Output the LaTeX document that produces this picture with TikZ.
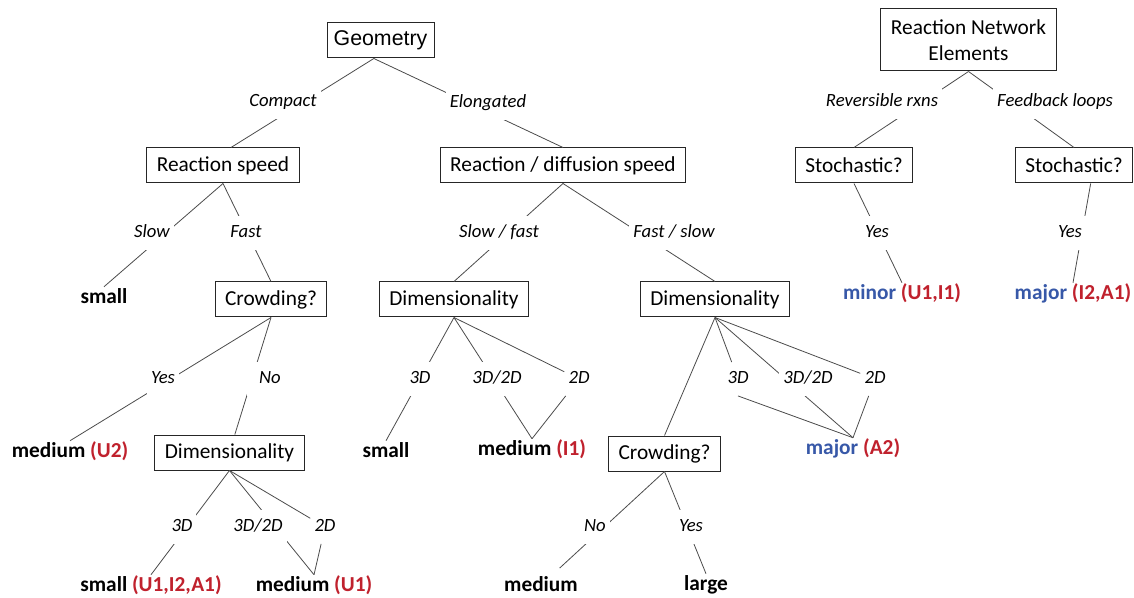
\documentclass[tikz,border=0pt]{standalone}
\usepackage{fontspec}
\setmainfont{Carlito}
\newfontfamily\geofont{Liberation Sans}
\definecolor{tagred}{RGB}{192,33,45}
\definecolor{tagblue}{RGB}{55,88,168}
\newcommand{\tagr}[1]{\textcolor{tagred}{#1}}
\newcommand{\tagb}[1]{\textcolor{tagblue}{#1}}

\begin{document}
\begin{tikzpicture}[x=0.75pt,y=-0.75pt,
  box/.style={draw=black!85,line width=0.75pt,font=\fontsize{16}{19.5}\selectfont,inner xsep=7.5pt,minimum height=26.25pt},
  lbl/.style={fill=white,font=\fontsize{14}{17}\selectfont\itshape,text height=10pt,text depth=3pt,inner xsep=3pt,inner ysep=6pt},
  res/.style={font=\fontsize{16}{19.5}\selectfont\bfseries,text height=12pt,text depth=3.5pt,inner sep=0.5pt},
  link/.style={draw=black!70,line width=0.6pt}]
\fill[white,use as bounding box](0,0) rectangle (1134,598);
\node[box,inner xsep=5pt] (geo) at (380.5,40.5) {\geofont Geometry};
\node[box,align=center,minimum height=46.5pt] (rne) at (968.5,40) {Reaction Network\\Elements};
\node[box] (rs) at (223,165.5) {Reaction speed};
\node[box] (rds) at (563,165.5) {Reaction / diffusion speed};
\node[box] (stochA) at (854,165.5) {Stochastic?};
\node[box] (stochB) at (1074,165.5) {Stochastic?};
\node[box] (crowdA) at (271,299.5) {Crowding?};
\node[box] (dimB) at (454,299.5) {Dimensionality};
\node[box] (dimC) at (715,299.5) {Dimensionality};
\node[box] (dimA) at (229.5,452.5) {Dimensionality};
\node[box] (crowdB) at (664.5,453.5) {Crowding?};
\node[res] (smallL) at (104,298) {small};
\node[res] (medU2) at (70,452) {medium \tagr{(U2)}};
\node[res] (smallU) at (151,586) {small \tagr{(U1,I2,A1)}};
\node[res] (medU1) at (314,586) {medium \tagr{(U1)}};
\node[res] (smallM) at (386,452) {small};
\node[res] (medI1) at (532,450) {medium \tagr{(I1)}};
\node[res,text depth=0pt] (medC) at (541,583) {medium};
\node[res] (large) at (706,585) {large};
\node[res] (majA2) at (853,449) {\tagb{major} \tagr{(A2)}};
\node[res] (minor) at (902,294) {\tagb{minor} \tagr{(U1,I1)}};
\node[res] (majI2) at (1073,294) {\tagb{major} \tagr{(I2,A1)}};
\draw[link] ([xshift=-5pt]geo.south) -- ([xshift=6pt]rs.north);
\draw[link] ([xshift=-5pt]geo.south) -- (rds.north);
\draw[link] (rs.south) -- (smallL.north);
\draw[link] (rs.south) -- (crowdA.north);
\draw[link] (crowdA.south) -- (medU2.north);
\draw[link] (crowdA.south) -- ([xshift=4pt]dimA.north);
\draw[link] (dimA.south) -- (smallU.north);
\draw[link] (dimA.south) -- (medU1.north);
\draw[link] (rds.south) -- (dimB.north);
\draw[link] (rds.south) -- (dimC.north);
\draw[link] (dimB.south) -- (smallM.north);
\draw[link] (dimB.south) -- (medI1.north);
\draw[link] (dimC.south) -- (crowdB.north);
\draw[link] (dimC.south) -- (majA2.north);
\draw[link] (crowdB.south) -- ([shift={(14pt,4.5pt)}]medC.north);
\draw[link] (crowdB.south) -- (large.north);
\draw[link] (rne.south) -- (stochA.north);
\draw[link] (rne.south) -- (stochB.north);
\draw[link] (stochA.south) -- (minor.north);
\draw[link] ([xshift=12.5pt]stochB.south) -- (majI2.north);
\node[lbl] (compact) at (283,102) {Compact};
\node[lbl] (elong) at (488,103) {Elongated};
\node[lbl] (slow) at (152,233) {Slow};
\node[lbl] (fast) at (246,233) {Fast};
\node[lbl] (yesA) at (163,379) {Yes};
\node[lbl,inner xsep=9pt] (noA) at (270,379) {No};
\node[lbl] (threeA) at (182,527) {3D};
\node[lbl] (mixA) at (258,527) {3D/2D};
\node[lbl] (twoA) at (325,527) {2D};
\node[lbl] (slowfast) at (499,233) {Slow / fast};
\node[lbl] (fastslow) at (674,233) {Fast / slow};
\node[lbl] (threeB) at (420,379) {3D};
\node[lbl] (mixB) at (497,379) {3D/2D};
\node[lbl] (twoB) at (579,379) {2D};
\node[lbl] (threeC) at (738,379) {3D};
\node[lbl] (mixC) at (808,379) {3D/2D};
\node[lbl] (twoC) at (875,379) {2D};
\node[lbl] (noB) at (595,527) {No};
\node[lbl] (yesB) at (691,527) {Yes};
\node[lbl] (rev) at (882,102) {Reversible rxns};
\node[lbl] (feed) at (1055,102) {Feedback loops};
\node[lbl] (yesC) at (877,233) {Yes};
\node[lbl] (yesD) at (1070,233) {Yes};
\draw[link] (dimA.south) -- (twoA) -- (medU1.north);
\draw[link] (dimB.south) -- (twoB) -- (medI1.north);
\draw[link] (dimC.south) -- (threeC) (threeC.south) -- (majA2.north);
\draw[link] (dimC.south) -- (twoC) -- (majA2.north);
\end{tikzpicture}
\end{document}
